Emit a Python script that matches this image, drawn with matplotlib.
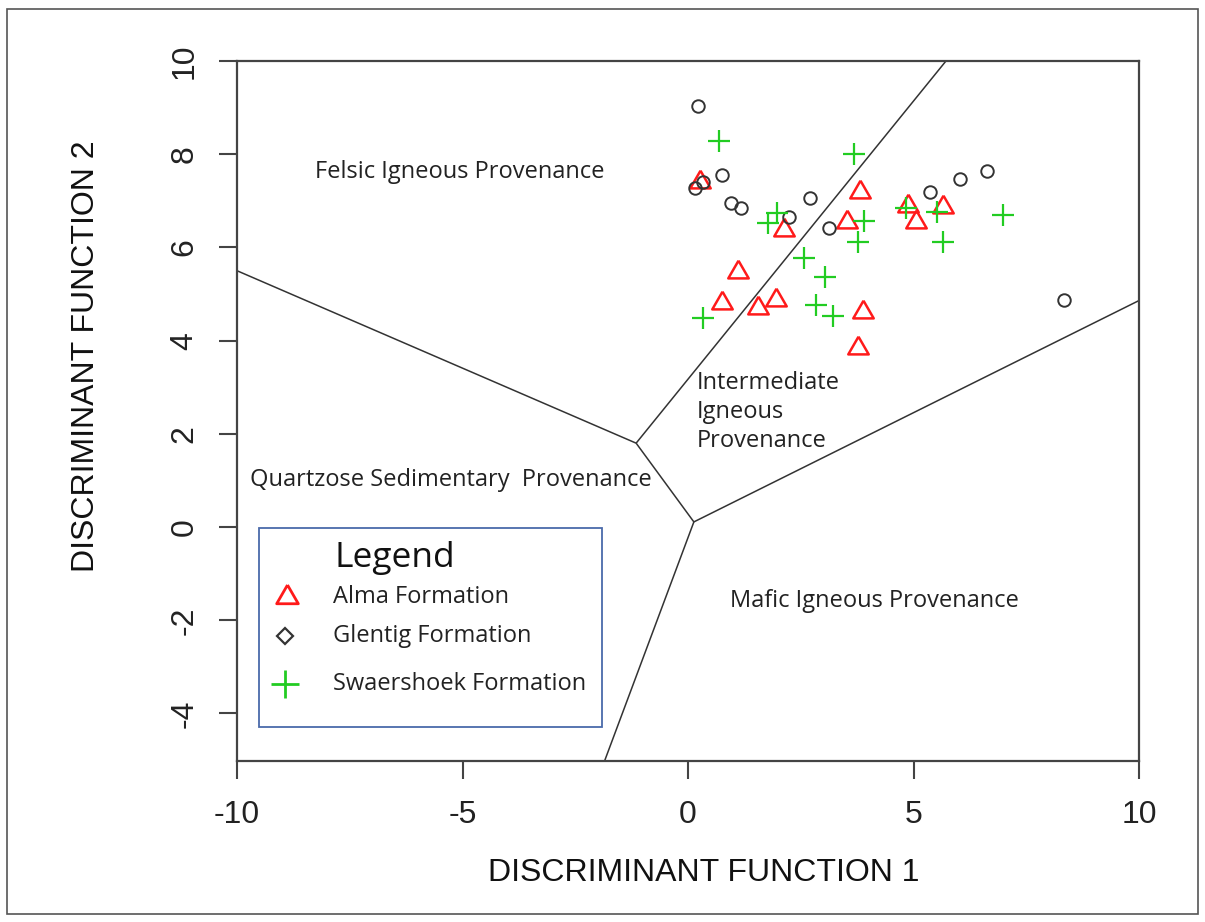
import matplotlib
matplotlib.use("Agg")
import matplotlib.pyplot as plt
from matplotlib.patches import Rectangle

# ---------------- data ----------------
alma_x = [0.27, 2.13, 3.81, 3.53, 4.88, 5.06, 5.65, 1.11, 0.75, 1.55, 1.95, 3.88, 3.77]
alma_y = [7.41, 6.38, 7.19, 6.55, 6.89, 6.55, 6.87, 5.48, 4.81, 4.70, 4.87, 4.62, 3.84]

glentig_x = [0.22, 0.75, 0.33, 0.16, 0.95, 1.18, 2.24, 2.71, 3.13, 5.37, 6.03, 6.63, 8.34]
glentig_y = [9.04, 7.56, 7.41, 7.28, 6.96, 6.85, 6.66, 7.06, 6.42, 7.19, 7.47, 7.64, 4.87]

swaer_x = [0.69, 1.97, 1.77, 3.68, 3.90, 3.77, 4.83, 5.52, 5.65, 6.98, 2.57, 3.04, 2.84, 3.22, 0.33]
swaer_y = [8.29, 6.74, 6.53, 8.01, 6.57, 6.12, 6.85, 6.76, 6.12, 6.70, 5.78, 5.37, 4.77, 4.53, 4.49]

# field boundaries (Roser & Korsch discriminant diagram)
boundary_lines = [
    ([-10.0, -1.15], [5.50, 1.80]),
    ([-1.15, 5.72], [1.80, 10.0]),
    ([-1.15, 0.13], [1.80, 0.11]),
    ([0.13, 10.0], [0.11, 4.86]),
    ([0.13, -1.85], [0.11, -5.02]),
]

series_names = ["Alma Formation", "Glentig Formation", "Swaershoek Formation"]
x_ticks = [-10, -5, 0, 5, 10]
y_ticks = [-4, -2, 0, 2, 4, 6, 8, 10]

# ---------------- style ----------------
RED = "#ff1a1a"
GREEN = "#22cc22"
DARK = "#333333"
tri = [(0, 1), (-0.866, -0.5), (0.866, -0.5), (0, 1)]

fig = plt.figure(figsize=(12.05, 9.22), dpi=100)
ax = fig.add_axes([237/1205, 1 - 761/922, (1139-237)/1205, (761-61)/922])

for xs, ys in boundary_lines:
    ax.plot(xs, ys, color=DARK, lw=1.1, solid_capstyle="butt", zorder=2)

ax.plot(alma_x, alma_y, linestyle="none", marker=tri, ms=17, mfc="none",
        mec=RED, mew=1.8, zorder=3)
ax.plot(glentig_x, glentig_y, linestyle="none", marker="o", ms=9, mfc="none",
        mec=DARK, mew=1.4, zorder=3)
ax.plot(swaer_x, swaer_y, linestyle="none", marker="+", ms=16, mec=GREEN,
        mew=1.6, zorder=3)

ax.set_xlim(-10, 10)
ax.set_ylim(-5.02, 10)
ax.set_xticks(x_ticks)
ax.set_yticks(y_ticks)
ax.set_xticklabels([str(v) for v in x_ticks], fontsize=23, family="Liberation Sans", color="#222222")
ax.set_yticklabels([str(v) for v in y_ticks], fontsize=23, family="Liberation Sans",
                   color="#222222", rotation=90, va="center")
ax.tick_params(axis="both", length=13, width=1.5, color="#444444", direction="out")
ax.tick_params(axis="x", pad=15)
ax.tick_params(axis="y", pad=14)
for s in ax.spines.values():
    s.set_linewidth(1.6)
    s.set_color("#444444")

ax.set_xlabel("DISCRIMINANT FUNCTION 1", fontsize=23, family="Liberation Sans",
              color="#111111")
ax.set_ylabel("DISCRIMINANT FUNCTION 2", fontsize=23, family="Liberation Sans",
              color="#111111")
ax.xaxis.set_label_coords(0.517, -0.139)
ax.yaxis.set_label_coords(-0.151, 0.579)

# field labels
lab_kw = dict(fontsize=17, family="Open Sans", color="#222222", va="center", ha="left", zorder=4)
ax.text(-8.27, 7.62, "Felsic Igneous Provenance", **lab_kw)
ax.text(-9.71, 1.01, "Quartzose Sedimentary  Provenance", **lab_kw)
ax.text(0.2, 2.47, "Intermediate\nIgneous\nProvenance", linespacing=1.28, **lab_kw)
ax.text(0.93, -1.59, "Mafic Igneous Provenance", **lab_kw)

# legend (manual, axes-fraction coordinates)
T = ax.transAxes
def fx(px):
    return (px - 237) / 902
def fy(py):
    return (761 - py) / 700

ax.add_patch(Rectangle((fx(259), fy(727)), fx(602) - fx(259), fy(528) - fy(727),
                       transform=T, fill=True, facecolor="white", edgecolor="#4a6aaa",
                       lw=1.3, zorder=5))
ax.text(fx(335), fy(558), "Legend", transform=T, fontsize=25.5, family="Open Sans",
        color="#111111", va="center", ha="left", zorder=6)
rows = [597, 636, 684]
ax.plot([fx(287)], [fy(rows[0])], transform=T, linestyle="none", marker=tri, ms=18,
        mfc="none", mec=RED, mew=2.0, zorder=6, clip_on=False)
ax.plot([fx(285)], [fy(rows[1]) ], transform=T, linestyle="none", marker="D", ms=8,
        mfc="none", mec=DARK, mew=1.6, zorder=6, clip_on=False)
ax.plot([fx(285)], [fy(rows[2])], transform=T, linestyle="none", marker="+", ms=20,
        mec=GREEN, mew=2.0, zorder=6, clip_on=False)
for r, name in zip(rows, series_names):
    ax.text(fx(333), fy(r), name, transform=T, fontsize=17, family="Open Sans",
            color="#222222", va="center", ha="left", zorder=6)

# outer figure frame
fig.patches.append(Rectangle((7/1205, 1 - 914/922), (1198-7)/1205, (914-9)/922,
                             transform=fig.transFigure, fill=False,
                             edgecolor="#555555", lw=1.2))

fig.savefig("out.png", dpi=100, facecolor="white")
